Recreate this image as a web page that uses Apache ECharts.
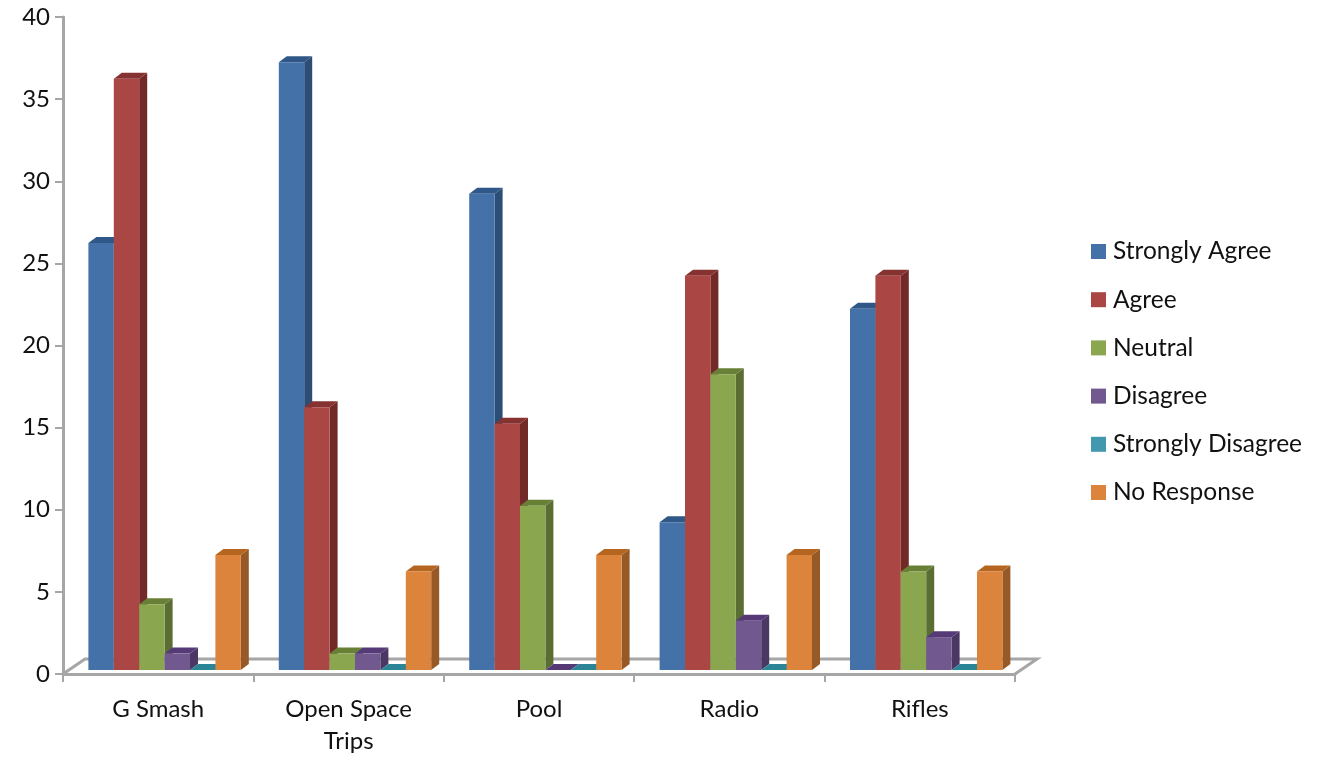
<!DOCTYPE html>
<html><head><meta charset="utf-8">
<style>html,body{margin:0;padding:0;background:#fff}#c{width:1317px;height:757px}</style>
<script src="https://cdn.jsdelivr.net/npm/echarts@6/dist/echarts.min.js"></script>
</head><body><div id="c"></div>
<script>
const categories = ['G Smash', 'Open Space\nTrips', 'Pool', 'Radio', 'Rifles'];
const stronglyAgree = [26, 37, 29, 9, 22];
const agree = [36, 16, 15, 24, 24];
const neutral = [4, 1, 10, 18, 6];
const disagree = [1, 1, 0, 3, 2];
const stronglyDisagree = [0, 0, 0, 0, 0];
const noResponse = [7, 6, 7, 7, 6];
const seriesNames = ['Strongly Agree', 'Agree', 'Neutral', 'Disagree', 'Strongly Disagree', 'No Response'];
const seriesValues = [stronglyAgree, agree, neutral, disagree, stronglyDisagree, noResponse];
const frontColors = ['#4472a8', '#aa4643', '#8aa64f', '#71588f', '#4198af', '#dd843c'];
const topColors = ['#2f5787', '#863230', '#688035', '#563a78', '#2c8596', '#b5651f'];
const sideColors = ['#2c4d75', '#722a28', '#5a6e33', '#4a3763', '#276a7c', '#975a26'];

const GRAY = '#a6a6a6', DX = 8, DY = 6, BAR_SHARE = 0.1334, X_SHIFT = 6.4, Y_SHIFT = -4;
const font = 'Lato';

function barItem(si) {
  return function (params, api) {
    const c = api.coord([api.value(0), api.value(1)]);
    const z = api.coord([api.value(0), 0]);
    const w = api.size([1, 0])[0] * BAR_SHARE;
    const x0 = c[0] + X_SHIFT + (si - 3) * w, x1 = x0 + w;
    const yt = c[1] + Y_SHIFT, yb = z[1] + Y_SHIFT;
    const kids = [
      {type:'polygon', shape:{points:[[x1,yt],[x1+DX,yt-DY],[x1+DX,yb-DY],[x1,yb]]}, style:{fill:sideColors[si]}},
      {type:'polygon', shape:{points:[[x0,yt],[x0+DX,yt-DY],[x1+DX,yt-DY],[x1,yt]]}, style:{fill:topColors[si]}}
    ];
    if (yb - yt > 0) kids.push({type:'rect', shape:{x:x0, y:yt, width:w, height:yb-yt}, style:{fill:frontColors[si]}});
    return {type:'group', children:kids};
  };
}

const floorSeries = {
  type:'custom', silent:true, z:1, clip:false, data:[[0,0]], encode:{x:0,y:1},
  renderItem(params, api) {
    const g = params.coordSys, yb = g.y + g.height, dx = 22, dy = 15;
    return {type:'polyline', shape:{points:[[g.x,yb],[g.x+dx,yb-dy],[g.x+g.width+dx,yb-dy],[g.x+g.width,yb]]},
      style:{fill:'none', stroke:GRAY, lineWidth:3}};
  }
};

const series = [floorSeries].concat(seriesNames.map((name, si) => ({
  type:'custom', name, z:2, clip:false, silent:true,
  itemStyle:{color:frontColors[si]},
  encode:{x:0,y:1},
  data:seriesValues[si].map((v,i)=>[i,v]),
  renderItem:barItem(si)
})));

const chart = echarts.init(document.getElementById('c'), null, {renderer:'canvas'});
chart.setOption({
  animation:false,
  backgroundColor:'#fff',
  grid:{left:63, right:302, top:17, height:658, containLabel:false},
  legend:{
    orient:'vertical', left:1086, top:234, itemWidth:15, itemHeight:15, itemGap:23.2, icon:'rect', selectedMode:false,
    data:seriesNames,
    textStyle:{fontFamily:font, fontSize:24.5, color:'#111', padding:[0,0,0,2]}
  },
  xAxis:{type:'category', data:categories,
    axisLine:{lineStyle:{color:GRAY,width:3}},
    axisTick:{show:true,length:8,lineStyle:{color:GRAY,width:2},alignWithLabel:false},
    axisLabel:{fontFamily:font,fontSize:24,color:'#111',margin:19,lineHeight:32,interval:0},
    splitLine:{show:false}},
  yAxis:{type:'value', min:0, max:40, interval:5,
    axisLine:{show:true,lineStyle:{color:GRAY,width:3}},
    axisTick:{show:true,length:8,lineStyle:{color:GRAY,width:2}},
    axisLabel:{fontFamily:font,fontSize:24,color:'#111',margin:13,padding:[2,0,0,0]},
    splitLine:{show:false}},
  series
});
</script></body></html>
